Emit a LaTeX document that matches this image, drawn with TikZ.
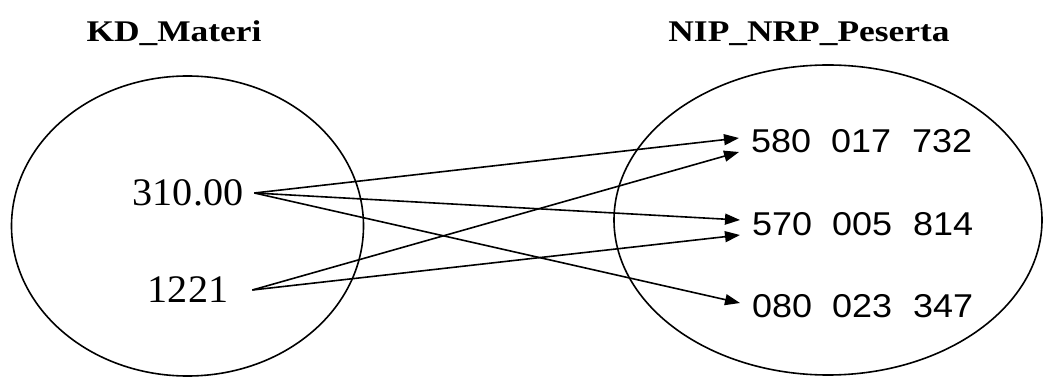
\documentclass[tikz,border=0pt]{standalone}
\usepackage{fontspec}
\setmainfont{Liberation Serif}
\newfontfamily\titlefont[FakeStretch=1.18]{Liberation Serif}
\newfontfamily\leftfont[FakeStretch=1.03]{Liberation Serif}
\newfontfamily\rightfont[FakeStretch=1.09]{Liberation Sans}
\usetikzlibrary{arrows.meta}
\tikzset{
  settitle/.style={font=\titlefont\bfseries\fontsize{30}{36}\selectfont, anchor=base, inner sep=0pt},
  leftlabel/.style={font=\leftfont\fontsize{39}{46}\selectfont, inner xsep=11pt, inner ysep=0pt},
  rightlabel/.style={font=\rightfont\fontsize{33}{40}\selectfont, anchor=west, inner xsep=12pt, inner ysep=0pt},
  setline/.style={line width=1.6pt},
  mapsto/.style={line width=1.6pt, -{Triangle[length=15pt,width=11pt]}}
}
\begin{document}
\begin{tikzpicture}[x=1pt, y=-1pt]
\useasboundingbox (0,0) rectangle (1045,379);
\fill[white] (0,0) rectangle (1045,379);
% sets
\draw[setline] (187.5,226) ellipse [x radius=176, y radius=150];
\draw[setline] (828,220) ellipse [x radius=214, y radius=155];
% titles
\node[settitle] (t1) at (174,42) {KD\_Materi};
\node[settitle] (t2) at (809,42) {NIP\_NRP\_Peserta};
% left elements
\node[leftlabel] (a) at (188,193) {310.00};
\node[leftlabel] (b) at (188,290) {1221};
% right elements
\node[rightlabel] (p) at (739,141) {580\hspace{20pt}017\hspace{21pt}732};
\node[rightlabel] (q) at (740,224) {570\hspace{20pt}005\hspace{21pt}814};
\node[rightlabel] (r) at (740,306) {080\hspace{20pt}023\hspace{21pt}347};
% mappings
\draw[mapsto] (a.east) -- ([yshift=3pt]p.west);
\draw[mapsto] (a.east) -- ([yshift=4pt]q.west);
\draw[mapsto] (a.east) -- ([yshift=3pt]r.west);
\draw[mapsto] ([xshift=13pt]b.east) -- ([yshift=-11pt]p.west);
\draw[mapsto] ([xshift=13pt]b.east) -- ([yshift=-11pt]q.west);
\end{tikzpicture}
\end{document}
